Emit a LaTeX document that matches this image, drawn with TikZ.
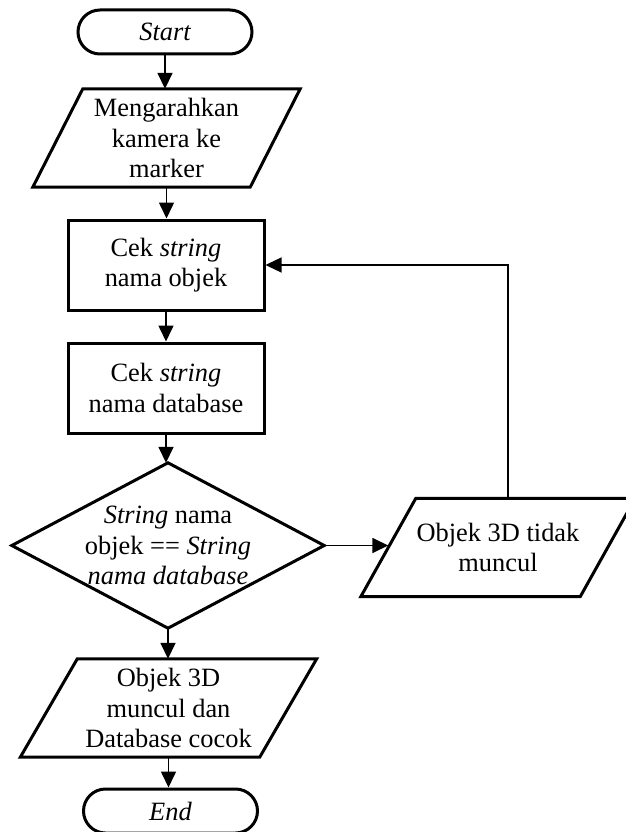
\documentclass[tikz,border=0pt]{standalone}
\usepackage{fontspec}
\setmainfont{Liberation Serif}
\usetikzlibrary{arrows.meta,calc}

\tikzset{
  shapeline/.style={line width=3pt, line join=miter},
  term/.style={draw, shapeline, rectangle, rounded corners=22pt,
    minimum width=174pt, minimum height=44pt, inner sep=0pt},
  proc/.style={draw, shapeline, rectangle, minimum width=196pt,
    minimum height=90pt, inner sep=0pt, align=center},
  iobox/.style={rectangle, minimum height=98pt, inner sep=0pt, align=center},
  decbox/.style={rectangle, minimum width=312pt, minimum height=165pt,
    inner sep=0pt, align=center},
  flow/.style={-{Triangle[length=16pt,width=15pt]}, line width=1.6pt},
  backflow/.style={-{Triangle[length=16pt,width=15pt]}, line width=1.3pt}
}

% parallelogram outline around a rectangular node, slanted by #2
\newcommand{\slantbox}[2]{%
  \draw[shapeline] (#1.south west) -- ([xshift=-#2]#1.south east)
    -- (#1.north east) -- ([xshift=#2]#1.north west) -- cycle;}

\begin{document}
\begin{tikzpicture}[x=1pt, y=-1pt, font=\fontsize{26.4}{30.5}\selectfont]
\useasboundingbox (0,0) rectangle (625,832);

% main column
\node[term] (start) at (165,32) {\itshape Start};

\node[iobox, minimum width=267pt] (in) at (166.5,138)
  {Mengarahkan\\kamera ke\\marker};
\slantbox{in}{50pt}

\node[proc] (chkobj) at (166,265) {Cek \textit{string}\\nama objek};
\node[proc] (chkdb) at (166,388) {Cek \textit{string}\\nama database};

\node[decbox] (cmp) at (168,545.5)
  {\textit{String} nama\\objek == \textit{String}\\\textit{nama database}};
\draw[shapeline] (cmp.north) -- (cmp.east) -- (cmp.south) -- (cmp.west) -- cycle;

\node[iobox, minimum width=296pt] (ok) at (168.5,708)
  {Objek 3D\\muncul dan\\Database cocok};
\slantbox{ok}{57pt}

\node[term] (end) at (170.5,811) {\itshape End};

% branch on mismatch
\node[iobox, minimum width=274pt] (fail) at (498,547.5)
  {Objek 3D tidak\\muncul};
\slantbox{fail}{55pt}
\coordinate (failin) at ($(fail.south west)!0.5!([xshift=55pt]fail.north west)$);

% connectors
\draw[flow] (start.south) -- (start.south |- in.north);
\draw[flow] (in.south) -- (in.south |- chkobj.north);
\draw[flow] (chkobj.south) -- (chkobj.south |- chkdb.north);
\draw[flow] (chkdb.south) -- (chkdb.south |- cmp.north);
\draw[flow] (cmp.east) -- (failin |- cmp.east);
\draw[flow] (cmp.south) -- (cmp.south |- ok.north);
\draw[flow] (ok.south) -- (ok.south |- end.north);
\draw[backflow] ([xshift=10pt]fail.north) |- (chkobj.east);
\end{tikzpicture}
\end{document}
